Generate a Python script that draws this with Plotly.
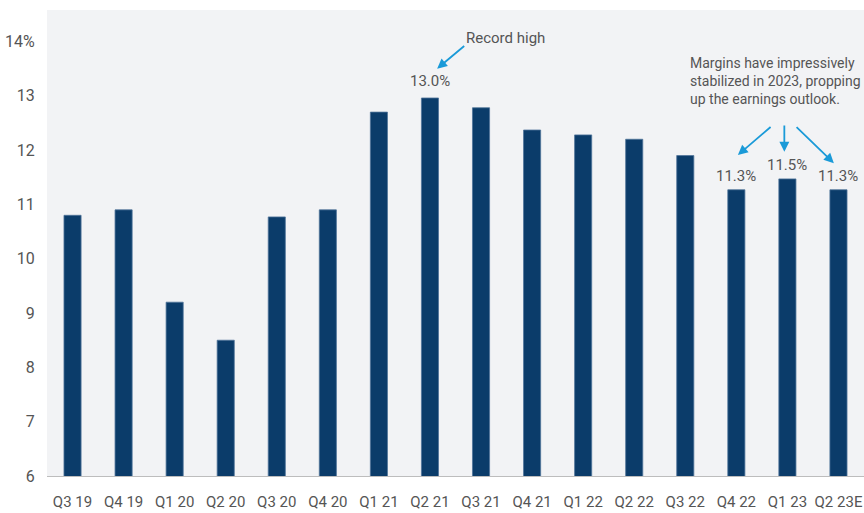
import plotly.graph_objects as go

categories = ["Q3 19", "Q4 19", "Q1 20", "Q2 20", "Q3 20", "Q4 20", "Q1 21", "Q2 21",
              "Q3 21", "Q4 21", "Q1 22", "Q2 22", "Q3 22", "Q4 22", "Q1 23", "Q2 23E"]
margins = [10.8, 10.9, 9.2, 8.5, 10.77, 10.9, 12.7, 12.96,
           12.78, 12.37, 12.28, 12.2, 11.9, 11.27, 11.47, 11.27]
ytick_vals = [6, 7, 8, 9, 10, 11, 12, 13, 14]
ytick_text = ["6", "7", "8", "9", "10", "11", "12", "13", "14%"]

BAR = "#0b3c6a"
ARROW = "#1a9ad8"
TXT = "#555555"
FONT = "Roboto, sans-serif"

fig = go.Figure()
fig.add_trace(go.Bar(
    x=categories, y=margins, base=0,
    marker=dict(color=BAR, line=dict(color="#4f7399", width=0.8)),
    hoverinfo="x+y",
))

anns = []
for idx, txt, yv in [(7, "13.0%", 13.27), (13, "11.3%", 11.52), (14, "11.5%", 11.73), (15, "11.3%", 11.52)]:
    anns.append(dict(x=idx, y=yv, xref="x", yref="y", text=txt, showarrow=False,
                     font=dict(family=FONT, size=15, color=TXT), xanchor="center", yanchor="middle"))
anns.append(dict(x=8.47, y=14.07, xref="x", yref="y", text="Record high", showarrow=False,
                 font=dict(family=FONT, size=15, color=TXT), xanchor="center", yanchor="middle"))
anns.append(dict(x=7.14, y=13.50, ax=7.70, ay=13.94, xref="x", yref="y", axref="x", ayref="y",
                 text="", showarrow=True, arrowhead=2, arrowsize=1.1, arrowwidth=1.8, arrowcolor=ARROW))
anns.append(dict(x=12.06, y=13.79, xref="x", yref="y", align="left",
                 text="Margins have impressively<br>stabilized in 2023, propping<br>up the earnings outlook.",
                 showarrow=False, font=dict(family=FONT, size=14, color=TXT),
                 xanchor="left", yanchor="top"))
for (tx, ty, hx, hy) in [(13.70, 12.45, 13.03, 11.91), (13.94, 12.48, 13.94, 11.97), (14.15, 12.45, 14.91, 11.76)]:
    anns.append(dict(x=hx, y=hy, ax=tx, ay=ty, xref="x", yref="y", axref="x", ayref="y",
                     text="", showarrow=True, arrowhead=2, arrowsize=1.1, arrowwidth=1.8, arrowcolor=ARROW))

fig.update_layout(
    width=864, height=513,
    margin=dict(l=47, r=0, t=10, b=37),
    paper_bgcolor="white",
    plot_bgcolor="#f2f3f5",
    bargap=0.665,
    showlegend=False,
    annotations=anns,
    font=dict(family=FONT, color=TXT),
)
fig.update_xaxes(
    type="category", range=[-0.5, 15.5], tickangle=0, automargin=False,
    showline=True, linecolor="#bdbdbd", linewidth=1,
    showgrid=False, ticks="outside", ticklen=12, tickcolor="rgba(0,0,0,0)",
    tickfont=dict(family=FONT, size=15, color=TXT),
)
fig.update_yaxes(
    range=[6, 14.58], tickvals=ytick_vals, ticktext=ytick_text, automargin=False,
    showgrid=False, zeroline=False, showline=False,
    ticks="outside", ticklen=8, tickcolor="rgba(0,0,0,0)",
    tickfont=dict(family=FONT, size=16, color=TXT),
)

fig.write_html("out.html", config={"displayModeBar": False},
               post_script="document.body.style.margin='0';document.body.style.overflow='hidden';")
